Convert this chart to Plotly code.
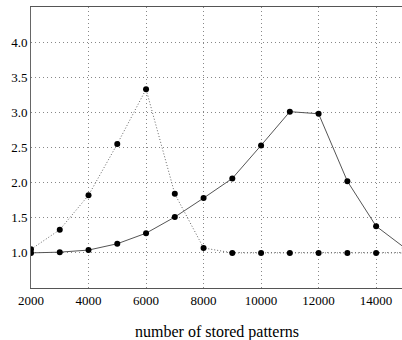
import plotly.graph_objects as go

patterns = [2000, 3000, 4000, 5000, 6000, 7000, 8000, 9000, 10000, 11000, 12000, 13000, 14000, 15000]
dotted_vals = [1.05, 1.33, 1.82, 2.55, 3.33, 1.84, 1.07, 1.0, 1.0, 1.0, 1.0, 1.0, 1.0, 1.0]
solid_vals = [1.0, 1.01, 1.04, 1.13, 1.28, 1.51, 1.78, 2.06, 2.53, 3.01, 2.98, 2.02, 1.38, 1.07]
x_ticks = [2000, 4000, 6000, 8000, 10000, 12000, 14000]
y_ticks = [1.0, 1.5, 2.0, 2.5, 3.0, 3.5, 4.0]
x_title = "number of stored patterns"

fig = go.Figure()
fig.add_trace(go.Scatter(x=patterns, y=dotted_vals, mode="lines+markers",
                         line=dict(color="#666666", width=1, dash="1px,2px"),
                         marker=dict(color="black", size=6), cliponaxis=True))
fig.add_trace(go.Scatter(x=patterns, y=solid_vals, mode="lines+markers",
                         line=dict(color="#555555", width=1),
                         marker=dict(color="black", size=6), cliponaxis=True))

fig.update_layout(
    width=402, height=340,
    margin=dict(l=31, r=0, t=7, b=52, autoexpand=False),
    plot_bgcolor="white", paper_bgcolor="white",
    showlegend=False,
    font=dict(family="Liberation Serif", size=13, color="black"),
    annotations=[dict(text=x_title, xref="paper", yref="paper", x=0.5, y=-0.157,
                      xanchor="center", yanchor="middle", showarrow=False,
                      font=dict(size=16))],
)
fig.update_xaxes(range=[2000, 14900], tickvals=x_ticks, ticktext=[str(v) for v in x_ticks],
                 showgrid=True, gridcolor="#888888", griddash="1px,3px", gridwidth=1,
                 showline=True, linecolor="#555555", linewidth=1, mirror=True,
                 zeroline=False, ticks="", automargin=False)
fig.update_yaxes(range=[0.5, 4.5], tickvals=y_ticks, ticktext=[f"{v:.1f}" for v in y_ticks],
                 showgrid=True, gridcolor="#888888", griddash="1px,3px", gridwidth=1,
                 showline=True, linecolor="#666666", linewidth=1, mirror=False,
                 zeroline=False, ticks="", automargin=False)
fig.write_html("out.html")
